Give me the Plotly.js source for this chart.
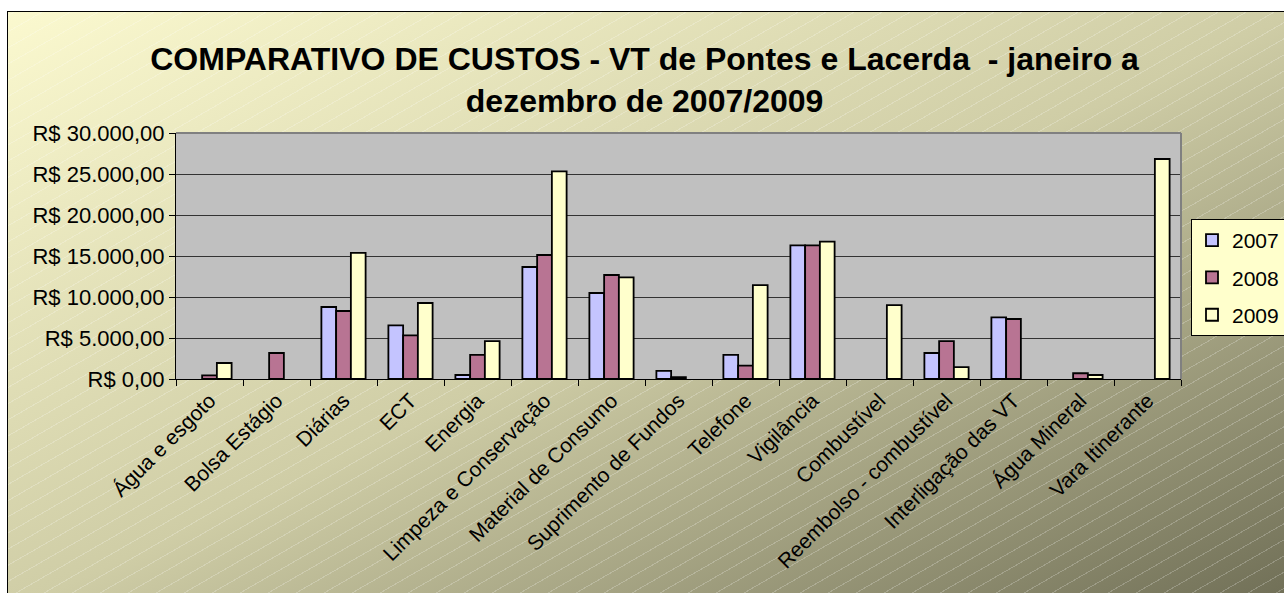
<!DOCTYPE html>
<html>
<head>
<meta charset="utf-8">
<script src="https://cdn.plot.ly/plotly-3.0.1.min.js"></script>
<style>
  html, body { margin: 0; padding: 0; background: #ffffff; }
  #wrap { position: relative; width: 1284px; height: 593px; overflow: hidden; }
  #bg {
    position: absolute; left: 7px; top: 11px; width: 1290px; height: 600px;
    border: 1px solid #000;
    background:
      repeating-linear-gradient(-30deg, rgba(255,255,255,0) 0px, rgba(255,255,255,0) 13px, rgba(255,255,255,0.22) 13px, rgba(255,255,255,0.22) 14px),
      linear-gradient(to bottom right, #fbf9cf 0%, #cfcda6 50%, #6d6c54 100%);
  }
  #chart { position: absolute; left: 0; top: 0; width: 1284px; height: 593px; }
</style>
</head>
<body>
<div id="wrap">
  <div id="bg"></div>
  <div id="chart"></div>
</div>
<script>
const categories = [
  "Água e esgoto", "Bolsa Estágio", "Diárias", "ECT", "Energia",
  "Limpeza e Conservação", "Material de Consumo", "Suprimento de Fundos",
  "Telefone", "Vigilância", "Combustível", "Reembolso - combustível",
  "Interligação das VT", "Água Mineral", "Vara Itinerante"
];
const values2007 = [null, null, 8780, 6550, 490, 13660, 10490, 980, 2930, 16300, null, 3170, 7520, null, null];
const values2008 = [450, 3170, 8290, 5330, 2930, 15120, 12680, 240, 1630, 16300, null, 4630, 7320, 700, null];
const values2009 = [1950, null, 15370, 9270, 4630, 25330, 12400, null, 11460, 16760, 9020, 1460, null, 490, 26830];
const seriesNames = ["2007", "2008", "2009"];
const yTickVals = [0, 5000, 10000, 15000, 20000, 25000, 30000];
const yTickText = ["R$ 0,00", "R$ 5.000,00", "R$ 10.000,00", "R$ 15.000,00", "R$ 20.000,00", "R$ 25.000,00", "R$ 30.000,00"];

const colors = ["#c4c4ff", "#b87493", "#ffffcc"];
const allValues = [values2007, values2008, values2009];

const traces = allValues.map((vals, i) => ({
  type: "bar",
  name: seriesNames[i],
  legendgroup: "g" + i,
  x: categories,
  y: vals,
  marker: { color: colors[i], line: { color: "#000000", width: 1.8 } },
  hoverinfo: "x+y+name"
}));

const font = "Arial, 'Liberation Sans', sans-serif";

const layout = {
  width: 1284,
  height: 593,
  margin: { l: 176, r: 103, t: 133, b: 214, autoexpand: false },
  paper_bgcolor: "rgba(0,0,0,0)",
  plot_bgcolor: "#c0c0c0",
  barmode: "group",
  bargap: 0.34,
  bargroupgap: 0,
  title: {
    text: "COMPARATIVO DE CUSTOS - VT de Pontes e Lacerda  - janeiro a<br>dezembro de 2007/2009",
    font: { family: font, size: 32, color: "#000000", weight: "bold" },
    x: 0.502, xanchor: "center",
    y: 1 - 70 / 593, yref: "container", yanchor: "middle"
  },
  font: { family: font, size: 21, color: "#000000" },
  xaxis: {
    type: "category",
    tickangle: -45,
    tickfont: { family: font, size: 21, color: "#000000" },
    ticks: "outside",
    tickson: "boundaries",
    ticklen: 6,
    tickcolor: "#000000",
    showline: true,
    linecolor: "#000000",
    linewidth: 1,
    showgrid: false,
    mirror: false
  },
  yaxis: {
    range: [0, 30000],
    tickvals: yTickVals,
    ticktext: yTickText,
    tickfont: { family: font, size: 22, color: "#000000" },
    ticks: "outside",
    ticklen: 6,
    tickcolor: "#000000",
    showline: true,
    linecolor: "#000000",
    linewidth: 1,
    showgrid: true,
    gridcolor: "#333333",
    gridwidth: 1,
    zeroline: false
  },
  shapes: [
    { type: "line", xref: "paper", yref: "paper", x0: 0, x1: 1, y0: 1, y1: 1, line: { color: "#808080", width: 2 } },
    { type: "line", xref: "paper", yref: "paper", x0: 1, x1: 1, y0: 0, y1: 1, line: { color: "#808080", width: 2 } }
  ],
  legend: {
    xref: "container", yref: "container",
    x: 1191 / 1284, xanchor: "left",
    y: 1 - 219 / 593, yanchor: "top",
    bgcolor: "#ffffcc",
    bordercolor: "#000000",
    borderwidth: 1,
    font: { family: font, size: 21, color: "#000000" },
    traceorder: "grouped",
    tracegroupgap: 7,
    itemwidth: 30
  },
  showlegend: true
};

Plotly.newPlot("chart", traces, layout, { displayModeBar: false, staticPlot: false });
</script>
</body>
</html>
